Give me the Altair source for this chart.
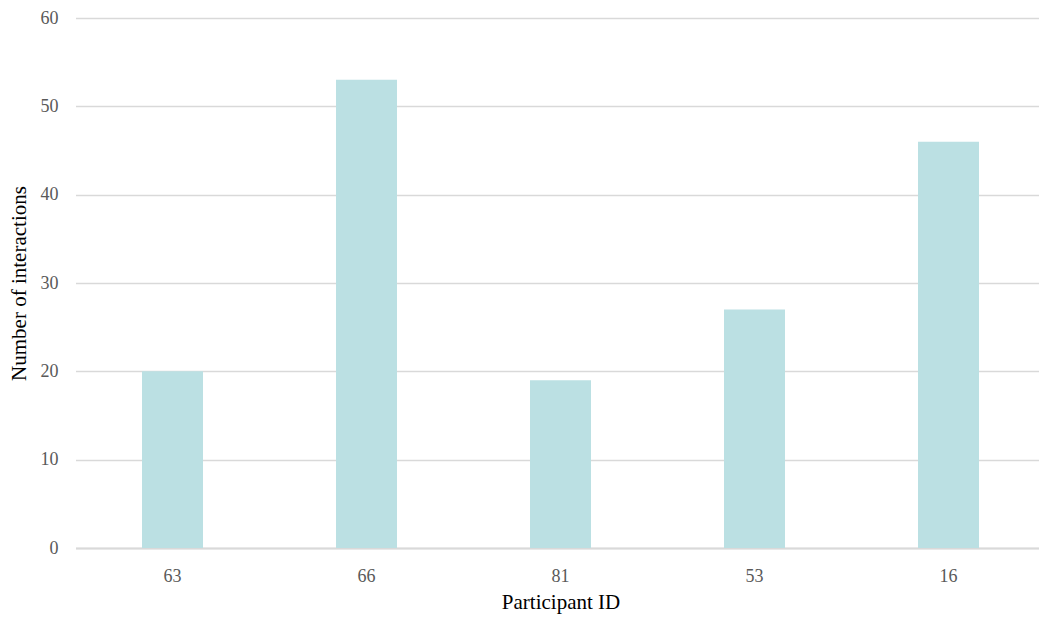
import altair as alt
import pandas as pd

# Interactions logged per participant
participants = ["63", "66", "81", "53", "16"]
interactions = [20, 53, 19, 27, 46]

df = pd.DataFrame({"participant": participants, "interactions": interactions})

FONT = "Liberation Serif"

chart = (
    alt.Chart(df)
    .mark_bar(color="#BBE0E3")
    .encode(
        x=alt.X(
            "participant:N",
            sort=participants,
            scale=alt.Scale(range=[0.5, 970.5], paddingInner=0.6856, paddingOuter=0.3428),
            axis=alt.Axis(
                title="Participant ID",
                labelAngle=0,
                labelFont=FONT,
                labelFontSize=18,
                labelColor="#595959",
                labelPadding=19,
                titleFont=FONT,
                titleFontSize=21,
                titleFontWeight="normal",
                titleColor="#000000",
                titlePadding=6,
                ticks=False,
                grid=False,
                domainColor="#D9D9D9",
                domainWidth=2,
            ),
        ),
        y=alt.Y(
            "interactions:Q",
            scale=alt.Scale(domain=[0, 60], nice=False),
            axis=alt.Axis(
                title="Number of interactions",
                values=[0, 10, 20, 30, 40, 50, 60],
                labelFont=FONT,
                labelFontSize=18,
                labelColor="#595959",
                labelPadding=17,
                titleFont=FONT,
                titleFontSize=21,
                titleFontWeight="normal",
                titleColor="#000000",
                titlePadding=11,
                ticks=False,
                domain=False,
                gridColor="#D9D9D9",
                gridWidth=1.5,
            ),
        ),
    )
    .properties(
        width=964,
        height=530,
        autosize=alt.AutoSizeParams(type="none"),
        padding={"left": 75, "top": 18, "right": 0, "bottom": 69},
    )
    .configure(background="#FFFFFF")
    .configure_view(stroke=None, strokeWidth=0)
)

chart.save("out.html", embed_options={"renderer": "svg", "actions": False})
